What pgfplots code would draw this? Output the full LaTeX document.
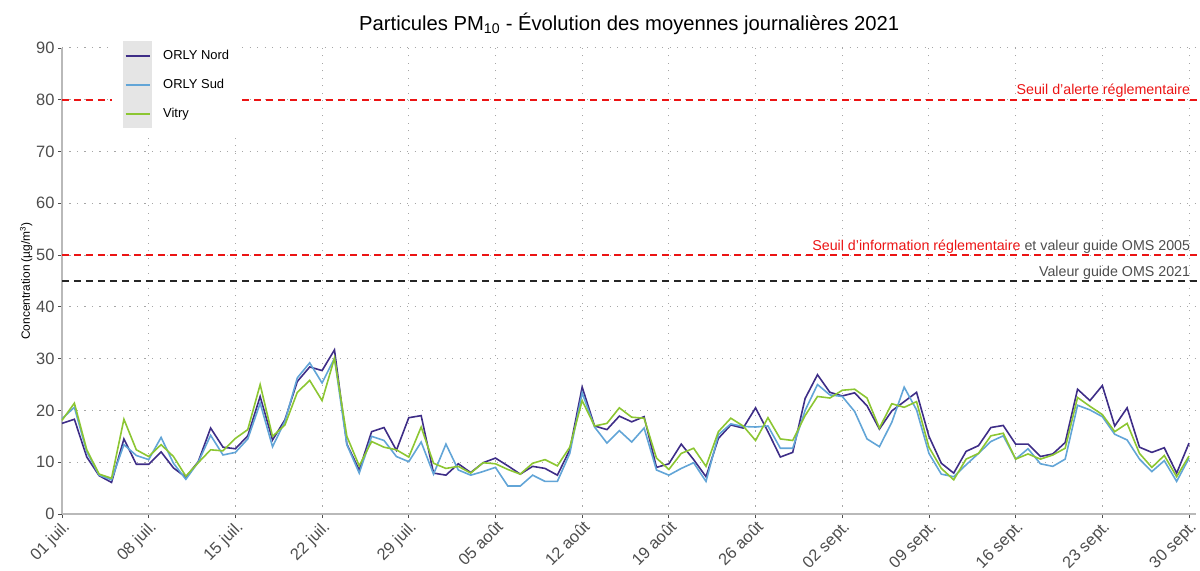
\documentclass[border=0pt]{standalone}
\usepackage{pgfplots}
\pgfplotsset{compat=1.18}
\usepackage{pgfplotstable}
\usepackage{fontspec}
\setmainfont{Liberation Sans}
\definecolor{on}{RGB}{62,45,135}
\definecolor{os}{RGB}{98,165,215}
\definecolor{vi}{RGB}{140,198,50}
\definecolor{keygray}{RGB}{229,229,229}
\definecolor{alert}{RGB}{235,20,20}
\definecolor{txtgray}{RGB}{77,77,77}
\pgfplotstableread{
d on os vi
0 17.5 18.4 18.1
1 18.3 20.6 21.4
2 11.0 12.0 12.4
3 7.4 7.5 7.7
4 6.1 6.6 6.9
5 14.5 13.4 18.3
6 9.6 11.3 12.4
7 9.6 10.5 11.1
8 12.0 14.8 13.4
9 8.9 9.8 11.1
10 7.1 6.7 7.3
11 10.1 10.0 9.9
12 16.6 15.2 12.4
13 12.9 11.4 12.2
14 12.6 11.9 14.6
15 15.1 14.5 16.3
16 22.7 21.4 25.0
17 14.3 13.0 15.0
18 18.2 17.9 17.2
19 25.6 26.3 23.5
20 28.4 29.2 25.8
21 27.7 25.3 21.9
22 31.7 30.1 30.1
23 13.5 13.4 15.0
24 8.5 7.9 9.3
25 15.9 15.0 14.0
26 16.7 14.2 12.9
27 12.3 11.1 12.4
28 18.6 10.1 11.0
29 19.0 13.9 16.8
30 7.9 7.7 9.8
31 7.5 13.5 8.8
32 9.7 8.5 9.2
33 8.0 7.5 7.9
34 9.9 8.2 9.9
35 10.8 9.0 9.7
36 9.3 5.4 8.6
37 7.7 5.4 7.7
38 9.2 7.5 9.8
39 8.8 6.3 10.5
40 7.5 6.3 9.3
41 12.4 11.7 12.9
42 24.5 23.4 21.9
43 17.0 16.8 17.0
44 16.3 13.7 17.5
45 18.9 16.1 20.5
46 17.8 13.9 18.7
47 18.8 16.6 18.5
48 9.0 8.5 10.8
49 9.7 7.5 8.6
50 13.5 8.8 11.7
51 10.5 9.9 12.7
52 7.2 6.3 9.2
53 14.6 15.3 15.9
54 17.2 17.4 18.5
55 16.6 16.9 17.0
56 20.5 16.8 14.2
57 15.9 17.0 18.6
58 11.0 12.7 14.5
59 11.9 12.7 14.2
60 22.3 20.0 19.0
61 26.9 25.0 22.7
62 23.5 23.0 22.4
63 22.8 22.7 23.9
64 23.4 19.8 24.1
65 20.9 14.5 22.4
66 16.4 13.0 16.6
67 19.9 17.7 21.3
68 21.7 24.5 20.6
69 23.5 20.1 21.7
70 15.0 11.7 12.9
71 9.8 7.7 8.8
72 7.9 7.2 6.6
73 12.1 9.5 10.6
74 13.2 11.7 11.7
75 16.7 14.0 15.1
76 17.1 15.1 15.6
77 13.5 10.6 10.6
78 13.5 12.6 11.6
79 11.1 9.7 10.6
80 11.6 9.2 11.4
81 13.8 10.6 12.7
82 24.1 21.0 22.5
83 21.9 20.1 20.8
84 24.8 18.8 19.2
85 17.0 15.4 15.9
86 20.5 14.3 17.5
87 12.9 10.6 11.7
88 11.9 8.2 9.0
89 12.8 10.3 11.3
90 7.9 6.3 7.2
91 13.7 10.8 11.2
}\pm
\begin{document}
\begin{tikzpicture}
\begin{axis}[
  scale only axis,
  width=1134.5bp, height=466bp,
  xmin=0, xmax=91.6, ymin=0, ymax=90,
  clip=false,
  axis x line*=bottom, axis y line*=left,
  axis line style={draw=gray!55, line width=1.6bp, -},
  tick align=outside,
  major tick length=4bp,
  tick style={draw=txtgray, line width=0.9bp},
  xtick={0,7,...,91},
  xticklabels={01 juil.,08 juil.,15 juil.,22 juil.,29 juil.,05 août,12 août,19 août,26 août,02 sept.,09 sept.,16 sept.,23 sept.,30 sept.},
  ytick={0,10,...,90},
  /pgf/number format/assume math mode=true,
  tick label style={font=\fontsize{16.5}{18}\selectfont, text=txtgray},
  x tick label style={rotate=45, anchor=north east, inner sep=1bp},
  grid=major,
  major grid style={draw=gray!70, line width=1bp, dash pattern=on 1.2bp off 6.3bp},
  title={Particules PM\textsubscript{10} - Évolution des moyennes journalières 2021},
  title style={font=\fontsize{20.3}{23}\selectfont, yshift=4bp},
  ylabel={Concentration (µg/m\textsuperscript{3})},
  ylabel style={font=\fontsize{12}{14}\selectfont, xshift=0bp, yshift=-3bp},
  legend cell align=left,
  legend style={at={(0.0441,1.03)}, anchor=north west, fill=white, draw=none,
    inner xsep=11bp, inner ysep=7bp, row sep=0pt, column sep=9bp,
    font=\fontsize{13}{15}\selectfont},
  legend image code/.code={
    \pgfsetfillcolor{keygray}
    \pgfpathrectangle{\pgfpoint{0bp}{-14.5bp}}{\pgfpoint{29bp}{29bp}}
    \pgfusepath{fill}
    \pgfsetlinewidth{1.8bp}
    \pgfpathmoveto{\pgfpoint{2.5bp}{0bp}}
    \pgfpathlineto{\pgfpoint{26.5bp}{0bp}}
    \pgfusepath{stroke}
  },
]
\addplot[alert, line width=1.6bp, dash pattern=on 7bp off 5bp, forget plot] coordinates {(0,80) (91.85,80)};
\addplot[alert, line width=1.6bp, dash pattern=on 7bp off 5bp, forget plot] coordinates {(0,50) (91.85,50)};
\addplot[black!85, line width=1.4bp, dash pattern=on 7bp off 5bp, forget plot] coordinates {(0,45) (91.85,45)};
\addplot[on, line width=1.6bp] table[x=d, y=on] {\pm};
\addplot[os, line width=1.6bp] table[x=d, y=os] {\pm};
\addplot[vi, line width=1.6bp] table[x=d, y=vi] {\pm};
\legend{ORLY Nord, ORLY Sud, Vitry}
\node[anchor=base east, text=alert, font=\fontsize{14.3}{16}\selectfont, inner sep=0pt] at (axis cs:91.1,80) [yshift=5bp] {Seuil d'alerte réglementaire};
\node[anchor=base east, text=txtgray, font=\fontsize{14.3}{16}\selectfont, inner sep=0pt] at (axis cs:91.1,50) [yshift=5bp] {\textcolor{alert}{Seuil d'information réglementaire} et valeur guide OMS 2005};
\node[anchor=base east, text=txtgray, font=\fontsize{14.3}{16}\selectfont, inner sep=0pt] at (axis cs:91.1,45) [yshift=5bp] {Valeur guide OMS 2021};
\end{axis}
\pgfresetboundingbox
\path (-62bp,-57bp) rectangle (1138bp,514bp);
\end{tikzpicture}
\end{document}
